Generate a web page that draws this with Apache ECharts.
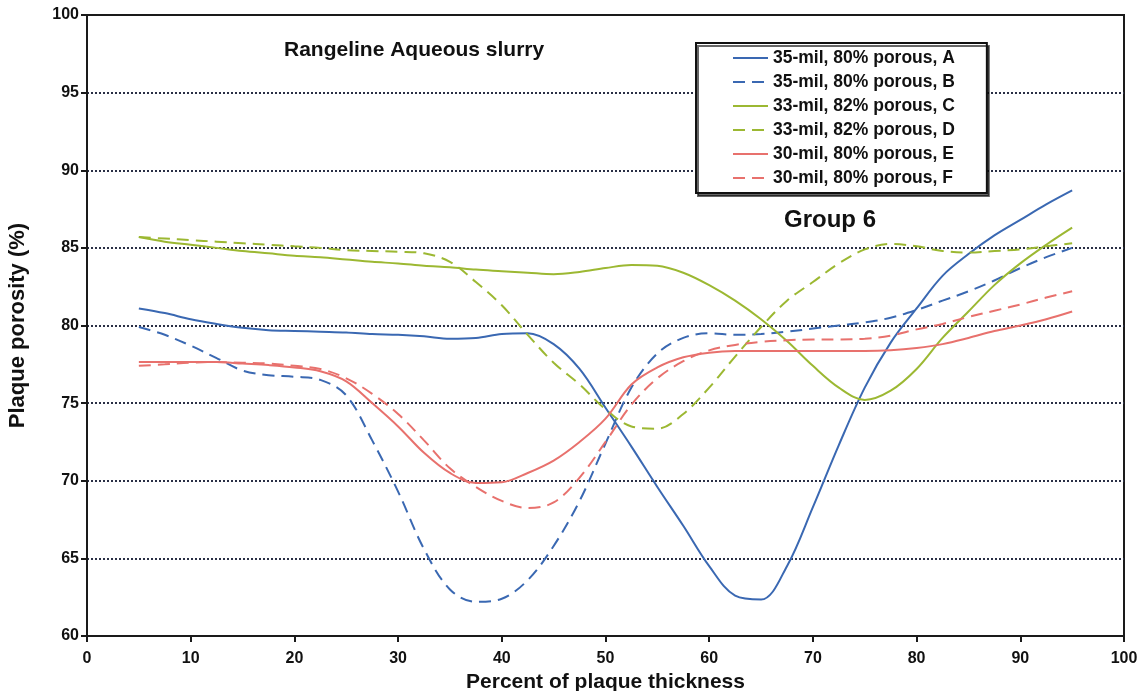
<!DOCTYPE html>
<html>
<head>
<meta charset="utf-8">
<script src="https://cdn.jsdelivr.net/npm/echarts@6/dist/echarts.min.js"></script>
<style>
  html, body { margin: 0; padding: 0; background: #fff; }
  #chart { width: 1143px; height: 691px; }
</style>
</head>
<body>
<div id="chart"></div>
<script>
// Position through the plaque (percent of thickness), shared by all six profiles
const thickness = [5, 7.5, 10, 12.5, 15, 17.5, 20, 22.5, 25, 27.5, 30, 32.5, 35, 37.5, 40, 42.5, 45, 47.5,
  50, 52.5, 55, 57.5, 60, 62.5, 65, 67.5, 70, 72.5, 75, 77.5, 80, 82.5, 85, 87.5, 90, 92.5, 95];

// Porosity profiles (%)
const porosityA = [81.1, 80.8, 80.4, 80.1, 79.85, 79.7, 79.65, 79.6, 79.55, 79.45, 79.4, 79.3, 79.15, 79.2, 79.45, 79.5, 78.8, 77.2,
  74.7, 72.2, 69.6, 67.1, 64.5, 62.6, 62.35, 64.5, 68.3, 72.3, 76.0, 78.9, 81.1, 83.2, 84.6, 85.8, 86.8, 87.8, 88.7];
const porosityB = [79.9, 79.4, 78.7, 77.9, 77.1, 76.8, 76.7, 76.5, 75.5, 72.6, 69.3, 65.6, 63.0, 62.2, 62.4, 63.6, 65.8, 68.7,
  72.4, 76.0, 78.2, 79.2, 79.5, 79.4, 79.45, 79.6, 79.8, 80.0, 80.2, 80.5, 81.0, 81.6, 82.2, 82.9, 83.7, 84.4, 85.0];
const porosityC = [85.7, 85.4, 85.2, 85.0, 84.8, 84.65, 84.5, 84.4, 84.25, 84.1, 84.0, 83.85, 83.75, 83.6, 83.5, 83.4, 83.3, 83.45,
  83.7, 83.9, 83.85, 83.4, 82.6, 81.6, 80.4, 79.0, 77.4, 76.0, 75.2, 75.8, 77.2, 79.2, 80.9, 82.6, 84.0, 85.2, 86.3];
const porosityD = [85.7, 85.6, 85.5, 85.4, 85.3, 85.2, 85.1, 85.0, 84.85, 84.8, 84.75, 84.65, 84.1, 82.8, 81.3, 79.4, 77.6, 76.2,
  74.6, 73.5, 73.35, 74.3, 76.0, 78.0, 79.9, 81.6, 82.8, 84.0, 84.9, 85.25, 85.1, 84.8, 84.7, 84.8, 84.9, 85.1, 85.3];
const porosityE = [77.65, 77.65, 77.65, 77.65, 77.55, 77.45, 77.3, 77.05, 76.4, 75.0, 73.5, 71.8, 70.5, 69.85, 69.9, 70.5, 71.3, 72.5,
  74.0, 76.2, 77.3, 77.95, 78.25, 78.35, 78.35, 78.35, 78.35, 78.35, 78.35, 78.4, 78.55, 78.8, 79.2, 79.65, 80.0, 80.4, 80.9];
const porosityF = [77.4, 77.5, 77.6, 77.65, 77.6, 77.55, 77.4, 77.2, 76.6, 75.6, 74.3, 72.6, 70.8, 69.6, 68.7, 68.25, 68.6, 70.2,
  72.5, 74.9, 76.6, 77.7, 78.4, 78.75, 78.95, 79.05, 79.1, 79.1, 79.15, 79.35, 79.75, 80.1, 80.55, 80.95, 81.35, 81.8, 82.2];

const seriesNames = [
  '35-mil, 80% porous, A', '35-mil, 80% porous, B',
  '33-mil, 82% porous, C', '33-mil, 82% porous, D',
  '30-mil, 80% porous, E', '30-mil, 80% porous, F'
];
const profiles = [porosityA, porosityB, porosityC, porosityD, porosityE, porosityF];
const colors = ['#3a68b2', '#3a68b2', '#9cb832', '#9cb832', '#e8716d', '#e8716d'];
const dashed = [false, true, false, true, false, true];

const font = "'Liberation Sans', Arial, sans-serif";

const chart = echarts.init(document.getElementById('chart'), null, { renderer: 'canvas' });

chart.setOption({
  animation: false,
  backgroundColor: '#fff',
  textStyle: { fontFamily: font },
  title: [
    { text: 'Rangeline Aqueous slurry', left: 279, top: 35,
      textStyle: { fontFamily: font, fontSize: 21, fontWeight: 'bold', color: '#111' } },
    { text: 'Group 6', left: 779, top: 203,
      textStyle: { fontFamily: font, fontSize: 24, fontWeight: 'bold', color: '#111' } }
  ],
  grid: { left: 87, right: 19, top: 15, bottom: 55, show: true, borderColor: '#1a1a1a', borderWidth: 2,
    backgroundColor: 'transparent', outerBoundsMode: 'none', containLabel: false },
  legend: {
    orient: 'vertical', left: 696, top: 43,
    data: seriesNames,
    backgroundColor: '#fff', borderColor: '#111', borderWidth: 2,
    shadowColor: 'rgba(0,0,0,0.6)', shadowOffsetX: 2, shadowOffsetY: 3, shadowBlur: 0,
    padding: [6, 32, 6, 36], itemWidth: 35, itemHeight: 14, itemGap: 6,
    itemStyle: { opacity: 0 },
    textStyle: { fontFamily: font, fontSize: 17.5, fontWeight: 'bold', color: '#111' }
  },
  xAxis: {
    type: 'value', min: 0, max: 100, interval: 10,
    name: 'Percent of plaque thickness', nameLocation: 'middle', nameGap: 34,
    nameTextStyle: { fontFamily: font, fontSize: 21, fontWeight: 'bold', color: '#111' },
    axisLine: { show: true, lineStyle: { color: '#1a1a1a', width: 2 } },
    axisTick: { show: true, inside: false, length: 6, lineStyle: { color: '#1a1a1a', width: 2 } },
    axisLabel: { fontFamily: font, fontSize: 16, fontWeight: 'bold', color: '#111', margin: 15 },
    splitLine: { show: false }
  },
  yAxis: {
    type: 'value', min: 60, max: 100, interval: 5,
    name: 'Plaque porosity (%)', nameLocation: 'middle', nameGap: 58, nameRotate: 90,
    nameTextStyle: { fontFamily: font, fontSize: 22, fontWeight: 'bold', color: '#111' },
    axisLine: { show: true, lineStyle: { color: '#1a1a1a', width: 2 } },
    axisTick: { show: true, inside: false, length: 6, lineStyle: { color: '#1a1a1a', width: 2 } },
    axisLabel: { fontFamily: font, fontSize: 16, fontWeight: 'bold', color: '#111', margin: 8 },
    splitLine: { show: true, showMinLine: false, showMaxLine: false,
      lineStyle: { color: '#2a2f45', width: 2, type: [2, 2] } }
  },
  series: profiles.map((vals, i) => ({
    name: seriesNames[i],
    type: 'line',
    data: thickness.map((x, j) => [x, vals[j]]),
    smooth: 0.35,
    symbol: 'none',
    lineStyle: { color: colors[i], width: 2, type: dashed[i] ? [12, 7] : 'solid' },
    itemStyle: { color: colors[i] },
    z: 3
  }))
});
</script>
</body>
</html>
